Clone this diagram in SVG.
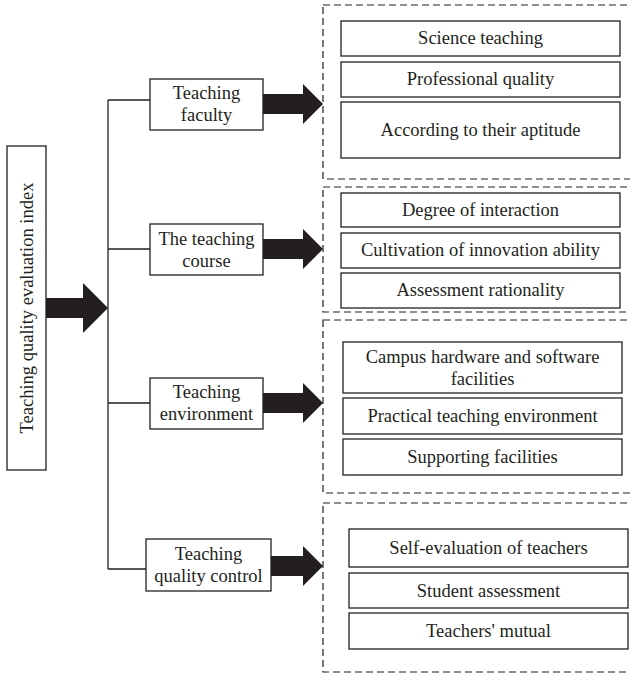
<svg xmlns="http://www.w3.org/2000/svg" width="630" height="684" viewBox="0 0 630 684">
<style>
.box{fill:#fff;stroke:#231f20;stroke-width:1.3}
.grp{fill:none;stroke:#231f20;stroke-width:1.2;stroke-dasharray:7 4}
.ln{fill:none;stroke:#231f20;stroke-width:1.3}
.arr{fill:#231f20}
text{font-family:"Liberation Serif","Times New Roman",serif;font-size:18.5px;fill:#231f20;text-anchor:middle}
</style>
<rect width="630" height="684" fill="#fff"/>
<g id="connectors">
<path class="ln" d="M108 100V569M108 100H150M108 249H150M108 403H150M108 569H146"/>
<polygon class="arr" points="46,298 83,298 83,283 108,308 83,333 83,318 46,318"/>
<polygon class="arr" points="263,94 303,94 303,84 323,104 303,124 303,114 263,114"/>
<polygon class="arr" points="263,239 303,239 303,229 323,249 303,269 303,259 263,259"/>
<polygon class="arr" points="263,393 303,393 303,383 323,403 303,423 303,413 263,413"/>
<polygon class="arr" points="271,556 303,556 303,546 323,566 303,586 303,576 271,576"/>
</g>
<g id="root"><rect class="box" x="7" y="146" width="39" height="324"/>
<text transform="translate(33 308) rotate(-90)" font-size="19">Teaching quality evaluation index</text></g>
<g id="faculty"><rect class="box" x="150" y="79" width="113" height="51"/><text x="206.5" y="99">Teaching</text><text x="206.5" y="121">faculty</text></g>
<g id="course"><rect class="box" x="150" y="224" width="113" height="51"/><text x="206.5" y="245">The teaching</text><text x="206.5" y="267">course</text></g>
<g id="environment"><rect class="box" x="150" y="378" width="113" height="51"/><text x="206.5" y="398">Teaching</text><text x="206.5" y="420">environment</text></g>
<g id="control"><rect class="box" x="146" y="539" width="125" height="52"/><text x="208.5" y="560">Teaching</text><text x="208.5" y="582">quality control</text></g>
<g id="group1"><rect class="grp" x="323" y="5" width="320" height="174"/>
<rect class="box" x="341" y="21" width="279" height="35"/><text x="480.5" y="44">Science teaching</text>
<rect class="box" x="341" y="62" width="279" height="35"/><text x="480.5" y="85">Professional quality</text>
<rect class="box" x="341" y="102" width="279" height="56"/><text x="480.5" y="136">According to their aptitude</text></g>
<g id="group2"><rect class="grp" x="323" y="187" width="320" height="125"/>
<rect class="box" x="341" y="193" width="279" height="34"/><text x="480.5" y="216">Degree of interaction</text>
<rect class="box" x="341" y="233" width="279" height="35"/><text x="480.5" y="256">Cultivation of innovation ability</text>
<rect class="box" x="341" y="273" width="279" height="35"/><text x="480.5" y="296">Assessment rationality</text></g>
<g id="group3"><rect class="grp" x="323" y="320" width="320" height="173"/>
<rect class="box" x="343" y="342" width="279" height="51"/><text x="482.5" y="363">Campus hardware and software</text><text x="482.5" y="385">facilities</text>
<rect class="box" x="343" y="398" width="279" height="36"/><text x="482.5" y="422">Practical teaching environment</text>
<rect class="box" x="343" y="439" width="279" height="36"/><text x="482.5" y="463">Supporting facilities</text></g>
<g id="group4"><rect class="grp" x="323" y="503" width="320" height="169"/>
<rect class="box" x="349" y="529" width="279" height="38"/><text x="488.5" y="554">Self-evaluation of teachers</text>
<rect class="box" x="349" y="573" width="279" height="35"/><text x="488.5" y="597">Student assessment</text>
<rect class="box" x="349" y="613" width="279" height="36"/><text x="488.5" y="637">Teachers' mutual</text></g>
</svg>
